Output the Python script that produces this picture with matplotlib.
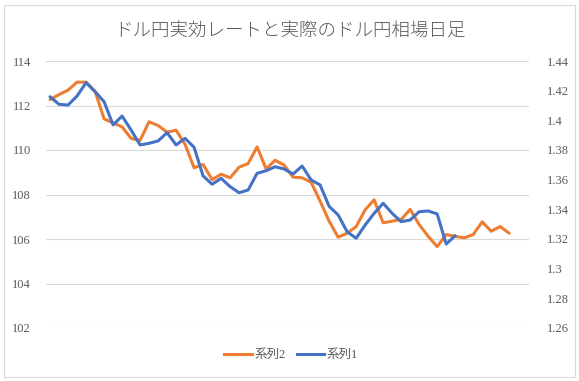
import matplotlib.pyplot as plt
import numpy as np
from matplotlib.lines import Line2D
from matplotlib.patches import Rectangle
from matplotlib.ticker import FuncFormatter

# 系列2: effective rate (left axis)
series2 = [
    112.27, 112.49, 112.69, 113.05, 113.05, 112.64, 111.40, 111.22, 111.04, 110.52,
    110.43, 111.27, 111.10, 110.80, 110.89, 110.25, 109.20, 109.35, 108.67, 108.91,
    108.75, 109.23, 109.39, 110.14, 109.15, 109.54, 109.32, 108.78, 108.75, 108.55,
    107.70, 106.80, 106.08, 106.26, 106.56, 107.31, 107.76, 106.73, 106.80, 106.88,
    107.33, 106.65, 106.12, 105.66, 106.20, 106.12, 106.05, 106.20, 106.77, 106.35,
    106.56, 106.26,
]
# 系列1: actual daily rate (right axis)
series1 = [
    1.4159, 1.4108, 1.4103, 1.4164, 1.4254, 1.4193, 1.4126, 1.3969, 1.4029, 1.3935,
    1.3834, 1.3845, 1.3861, 1.3917, 1.3834, 1.3879, 1.3818, 1.3625, 1.3569, 1.3609,
    1.3553, 1.3512, 1.3530, 1.3643, 1.3660, 1.3687, 1.3672, 1.3638, 1.3692, 1.3598,
    1.3564, 1.3420, 1.3362, 1.3249, 1.3205, 1.3294, 1.3373, 1.3441, 1.3373, 1.3317,
    1.3328, 1.3384, 1.3389, 1.3369, 1.3166, 1.3222,
]
left_ticks = [102, 104, 106, 108, 110, 112, 114]
right_ticks = [1.26, 1.28, 1.30, 1.32, 1.34, 1.36, 1.38, 1.40, 1.42, 1.44]

title = "ドル円実効レートと実際のドル円相場日足"
ORANGE = "#ED7D31"
BLUE = "#4472C4"
GREY = "#595959"
GRID = "#D9D9D9"
NUM_FONT = ["Liberation Serif", "Noto Sans CJK JP"]

W, H = 579, 381
fig = plt.figure(figsize=(W / 100, H / 100), dpi=100)
fig.patches.append(Rectangle((4 / W, 4 / H), 571 / W, 372 / H, transform=fig.transFigure,
                             fill=False, edgecolor=GRID, linewidth=0.8))

ax = fig.add_axes([46 / W, (H - 328) / H, (529 - 46) / W, (328 - 61) / H])
ax2 = ax.twinx()

ax.plot(np.arange(len(series2)), series2, color=ORANGE, linewidth=2.2, solid_capstyle="round")
ax2.plot(np.arange(len(series1)), series1, color=BLUE, linewidth=2.2, solid_capstyle="round")

ax.set_xlim(-0.45, 53.2)
ax.set_ylim(102, 114)
ax2.set_ylim(1.26, 1.44)
ax.set_yticks(left_ticks)
ax2.set_yticks(right_ticks)
ax2.yaxis.set_major_formatter(FuncFormatter(lambda v, p: f"{round(v, 2):g}"))
ax.set_xticks([])
ax.grid(axis="y", color=GRID, linewidth=0.8)
ax.set_axisbelow(True)

for a in (ax, ax2):
    for s in a.spines.values():
        s.set_visible(False)
    a.tick_params(axis="y", length=0, colors=GREY, labelsize=9)
    for lab in a.get_yticklabels():
        lab.set_family(NUM_FONT)
ax.tick_params(axis="y", pad=11)
ax2.tick_params(axis="y", pad=13)

fig.text(0.5, 1 - 32 / H, title, ha="center", va="center", fontsize=13.3,
         color=GREY, family=["Noto Sans CJK JP"], fontweight="light")

handles = [Line2D([], [], color=ORANGE, linewidth=2.2),
           Line2D([], [], color=BLUE, linewidth=2.2)]
leg = fig.legend(handles, ["系列2", "系列1"], loc="center", bbox_to_anchor=(291 / W, 1 - 355 / H),
                 ncol=2, frameon=False, fontsize=9, handlelength=2.2, handletextpad=0.2,
                 columnspacing=0.9, prop={"family": NUM_FONT, "size": 9})
for t in leg.get_texts():
    t.set_color(GREY)

fig.savefig("out.png", dpi=100)
